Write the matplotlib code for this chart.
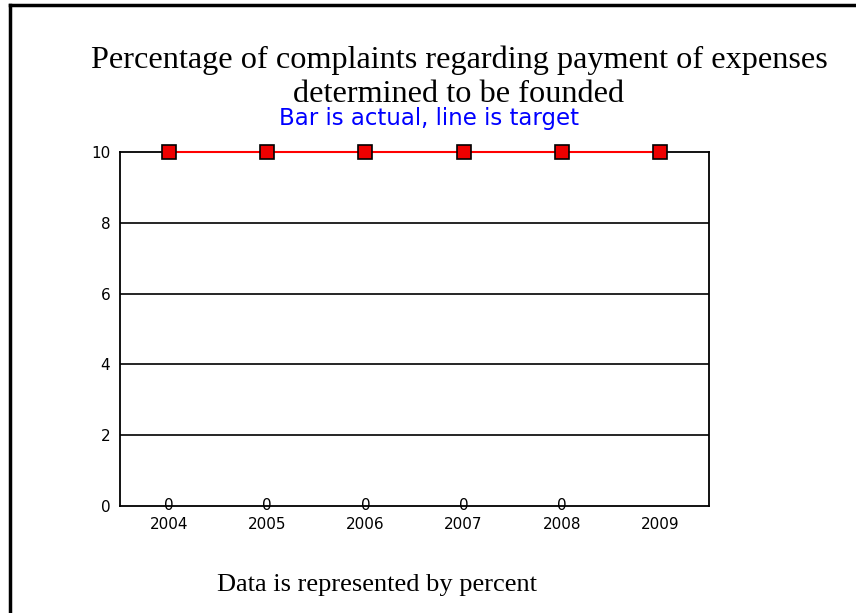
import numpy as np
import matplotlib.pyplot as plt
from matplotlib.lines import Line2D

# chart data
years = ['2004', '2005', '2006', '2007', '2008', '2009']
actual = [0, 0, 0, 0, 0, None]   # 2009 has no actual value
target = [10, 10, 10, 10, 10, 10]
y_ticks = [0, 2, 4, 6, 8, 10]

fig = plt.figure(figsize=(8.56, 6.13), dpi=100)
ax = fig.add_axes([120 / 856, 107 / 613, 589 / 856, 354 / 613])

x = np.arange(len(years))

# bars (actual) - all zero here, labelled on the axis
bar_x = [i for i, v in enumerate(actual) if v is not None]
bar_v = [v for v in actual if v is not None]
ax.bar(bar_x, bar_v, width=0.5, color='#0000ff', zorder=2)
for xi, v in zip(bar_x, bar_v):
    ax.text(xi, v, str(v), ha='center', va='center', fontsize=11,
            family='DejaVu Sans', zorder=4)

# target line
ax.plot(x, target, color='red', lw=1.5, marker='s', ms=10,
        markerfacecolor='#ee0000', markeredgecolor='black', mew=1.2,
        zorder=5, clip_on=False)

ax.set_xlim(-0.5, len(years) - 0.5)
ax.set_ylim(0, 10)
ax.set_xticks(x)
ax.set_xticklabels(years)
ax.set_yticks(y_ticks)
ax.tick_params(length=0, labelsize=11)
ax.tick_params(axis='x', pad=8)
ax.tick_params(axis='y', pad=7)
for lab in ax.get_xticklabels() + ax.get_yticklabels():
    lab.set_family('DejaVu Sans')

for y in y_ticks[1:-1]:
    ax.axhline(y, color='black', lw=1.2, zorder=1)
for s in ax.spines.values():
    s.set_color('black')
    s.set_linewidth(1.3)

# titles
fig.text(459 / 856, 1 - 60 / 613,
         'Percentage of complaints regarding payment of expenses',
         ha='center', va='center', fontsize=23.2, family='Liberation Serif')
fig.text(459 / 856, 1 - 95 / 613, 'determined to be founded',
         ha='center', va='center', fontsize=23.2, family='Liberation Serif')
fig.text(429 / 856, 1 - 118 / 613, 'Bar is actual, line is target',
         ha='center', va='center', fontsize=16.5, color='#0000ff',
         family='DejaVu Sans')
fig.text(377 / 856, 1 - 585 / 613, 'Data is represented by percent',
         ha='center', va='center', fontsize=19, family='Liberation Serif')

# outer frame (top and left edges)
fig.add_artist(Line2D([10 / 856, 856 / 856], [1 - 5 / 613, 1 - 5 / 613],
                      color='black', lw=2.5, transform=fig.transFigure))
fig.add_artist(Line2D([10 / 856, 10 / 856], [1 - 5 / 613, 0],
                      color='black', lw=2.5, transform=fig.transFigure))

fig.savefig('out.png', dpi=100)
